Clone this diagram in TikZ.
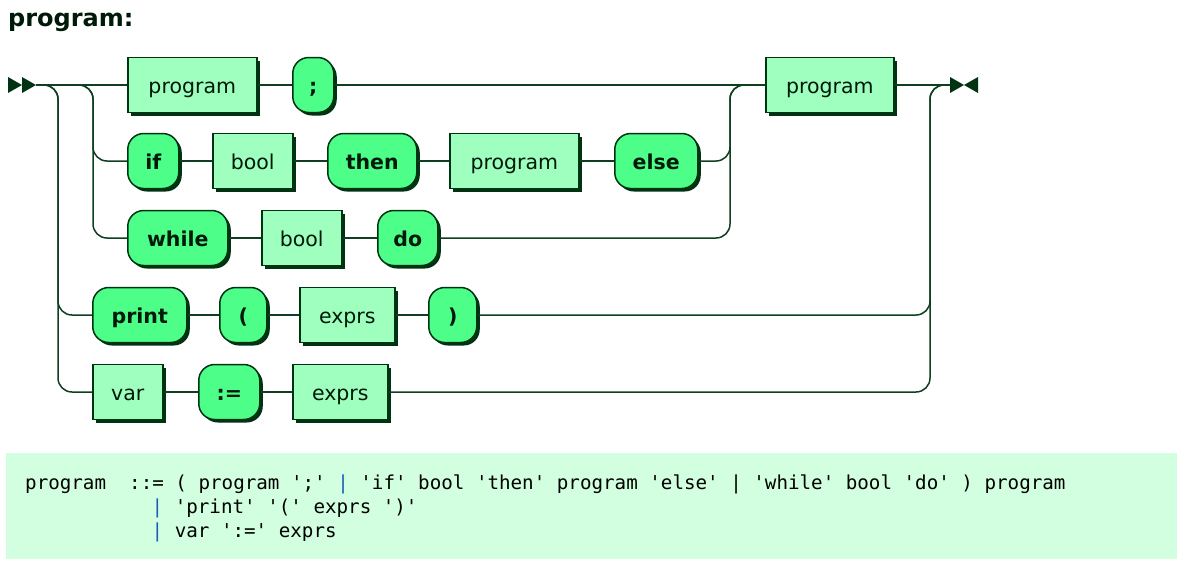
\documentclass[tikz,border=0pt]{standalone}
\usepackage{fontspec}
\setmainfont{DejaVu Sans}
\setmonofont{DejaVu Sans Mono}
\usetikzlibrary{shadows}

\definecolor{lineC}{HTML}{0F3F20}
\definecolor{strokeC}{HTML}{003311}
\definecolor{shadowC}{HTML}{003311}
\definecolor{ntFill}{HTML}{9FFFBF}
\definecolor{tFill}{HTML}{4DFF88}
\definecolor{textC}{HTML}{001A09}
\definecolor{codeBg}{HTML}{D2FFE0}
\definecolor{barC}{HTML}{1A5CB8}

\tikzset{
  rr/.style={draw=lineC, line width=1.5pt},
  rrc/.style={rr, rounded corners=14pt},
  box/.style={draw=strokeC, line width=1.5pt, minimum height=55pt, inner sep=0pt,
    text height=18pt, text depth=2pt,
    anchor=west, text=textC,
    general shadow={fill=shadowC, shadow xshift=3pt, shadow yshift=-3pt}},
  nt/.style={box, fill=ntFill, font=\fontsize{20.5}{24}\selectfont},
  term/.style={box, fill=tFill, rounded corners=16pt,
    font=\fontsize{20.5}{24}\selectfont\bfseries},
  marker/.style={fill=strokeC, draw=none},
  code/.style={anchor=base west, inner sep=0pt, text=black,
    font=\fontsize{19.2}{23}\selectfont\ttfamily},
}

\begin{document}
\begin{tikzpicture}[x=1pt, y=-1pt]
\useasboundingbox (0,0) rectangle (1177,571);

% heading
\node[anchor=base west, inner sep=0pt, text=textC,
      font=\fontsize{24}{28}\selectfont\bfseries] (title) at (8,26) {program:};

% entry and exit points, branch and merge columns
\coordinate (start) at (36,85);
\coordinate (finish) at (950,85);
\coordinate (sOuter) at (58,85);
\coordinate (sInner) at (93,85);
\coordinate (jInner) at (730,85);
\coordinate (jOuter) at (930,85);

% row 1
\node[nt, minimum width=129pt] (prog1) at (127,85) {program};
\node[term, minimum width=41pt] (semi) at (292,85) {;};
\node[nt, minimum width=128pt] (prog2) at (765,85) {program};
% row 2
\node[term, minimum width=51pt] (kif) at (127,161) {if};
\node[nt, minimum width=80pt] (bool1) at (212,161) {bool};
\node[term, minimum width=89pt] (kthen) at (327,161) {then};
\node[nt, minimum width=129pt] (prog3) at (449,161) {program};
\node[term, minimum width=83pt] (kelse) at (614,161) {else};
% row 3
\node[term, minimum width=100pt] (kwhile) at (127,238) {while};
\node[nt, minimum width=80pt] (bool2) at (261,238) {bool};
\node[term, minimum width=60pt] (kdo) at (377,238) {do};
% row 4
\node[term, minimum width=94pt] (kprint) at (92,315) {print};
\node[term, minimum width=47pt] (lpar) at (219,315) {(};
\node[nt, minimum width=95pt] (exprs1) at (299,315) {exprs};
\node[term, minimum width=48pt] (rpar) at (428,315) {)};
% row 5
\node[nt, minimum width=70pt] (var) at (92,392) {var};
\node[term, minimum width=61pt] (assign) at (198,392) {:=};
\node[nt, minimum width=95pt] (exprs2) at (292,392) {exprs};

% start and end markers
\fill[marker] (8,77) -- (22,85) -- (8,93) -- cycle;
\fill[marker] (22,77) -- (start) -- (22,93) -- cycle;
\fill[marker] (finish) ++(0,-8) -- (964,85) -- (950,93) -- cycle;
\fill[marker] (978,77) -- (964,85) -- (978,93) -- cycle;

% straight runs
\draw[rr] (start) -- (prog1.west);
\draw[rr] (prog1.east) -- (semi.west);
\draw[rr] (semi.east) -- (prog2.west);
\draw[rr] (prog2.east) -- (finish);
\draw[rr] (kif.east) -- (bool1.west);
\draw[rr] (bool1.east) -- (kthen.west);
\draw[rr] (kthen.east) -- (prog3.west);
\draw[rr] (prog3.east) -- (kelse.west);
\draw[rr] (kwhile.east) -- (bool2.west);
\draw[rr] (bool2.east) -- (kdo.west);
\draw[rr] (kprint.east) -- (lpar.west);
\draw[rr] (lpar.east) -- (exprs1.west);
\draw[rr] (exprs1.east) -- (rpar.west);
\draw[rr] (var.east) -- (assign.west);
\draw[rr] (assign.east) -- (exprs2.west);

% branches
\draw[rrc] (start) -- (sInner) |- (kif.west);
\draw[rrc] (start) -- (sInner) |- (kwhile.west);
\draw[rrc] (start) -- (sOuter) |- (kprint.west);
\draw[rrc] (start) -- (sOuter) |- (var.west);

% merges
\draw[rrc] (kelse.east) -| (jInner) -- (prog2.west);
\draw[rrc] (kdo.east) -| (jInner) -- (prog2.west);
\draw[rrc] (rpar.east) -| (jOuter) -- (finish);
\draw[rrc] (exprs2.east) -| (jOuter) -- (finish);

% grammar text
\fill[codeBg] (6,453) rectangle (1177,559);
\node[code] (code1) at (25,489) {program~~::= ( program ';' \textcolor{barC}{|} 'if' bool 'then' program 'else' | 'while' bool 'do' ) program};
\node[code] (code2) at (151.5,513) {\textcolor{barC}{|} 'print' '(' exprs ')'};
\node[code] (code3) at (151.5,537) {\textcolor{barC}{|} var ':=' exprs};

\end{tikzpicture}
\end{document}
